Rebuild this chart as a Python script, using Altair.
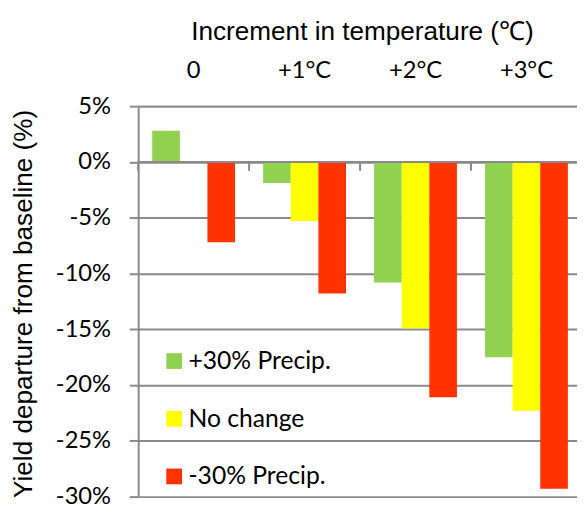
import altair as alt
import pandas as pd

categories = ["0", "+1°C", "+2°C", "+3°C"]
series_names = ["+30% Precip.", "No change", "-30% Precip."]
plus30 = [2.8, -1.9, -10.8, -17.5]
nochange = [0.0, -5.3, -14.9, -22.3]
minus30 = [-7.2, -11.8, -21.1, -29.3]
colors = ["#92D050", "#FFFF00", "#FF3300"]
y_ticks = [5, 0, -5, -10, -15, -20, -25, -30]

rows = []
for name, vals in zip(series_names, [plus30, nochange, minus30]):
    for c, v in zip(categories, vals):
        rows.append({"cat": c, "series": name, "value": v})
df = pd.DataFrame(rows)
cat_df = pd.DataFrame({"cat": categories})

GRAY = "#8a8a8a"

xscale = alt.Scale(domain=categories, range=[0, 450], paddingInner=0, paddingOuter=0)

bars = alt.Chart(df).mark_bar(clip=True).encode(
    x=alt.X("cat:N", scale=xscale,
            axis=alt.Axis(orient="top", title="Increment in temperature (℃)",
                          labelAngle=0, labelFont="Lato", labelFontSize=24,
                          labelColor="black", labelBaseline="alphabetic",
                          labelPadding=29, ticks=False, tickSize=0,
                          domainColor=GRAY, domainWidth=2,
                          titleFont="Liberation Sans", titleFontSize=26.5,
                          titleFontWeight="normal", titleColor="black",
                          titleX=227, titleY=-68, titleBaseline="alphabetic",
                          titleAlign="center")),
    xOffset=alt.XOffset("series:N", sort=series_names,
                        scale=alt.Scale(domain=series_names, paddingInner=0, paddingOuter=0.509)),
    y=alt.Y("value:Q", scale=alt.Scale(domain=[-30, 5], nice=False, zero=False),
            axis=alt.Axis(values=y_ticks, labelExpr="datum.value + '%'",
                          title="Yield departure from baseline (%)",
                          labelFont="Lato", labelFontSize=24, labelColor="black",
                          labelPadding=19, tickSize=9, tickColor=GRAY, tickWidth=2,
                          domainColor=GRAY, domainWidth=2,
                          gridColor=GRAY, gridWidth=2, grid=True,
                          titleFont="Liberation Sans", titleFontSize=26.5,
                          titleFontWeight="normal", titleColor="black",
                          titleAngle=270, titleX=-116, titleY=200,
                          titleBaseline="middle", titleAlign="center")),
    color=alt.Color("series:N", sort=series_names,
                    scale=alt.Scale(domain=series_names, range=colors),
                    legend=alt.Legend(title=None, orient="none", legendX=24, legendY=246,
                                      padding=0, symbolType="square", symbolSize=256,
                                      symbolStrokeWidth=0, labelFont="Lato",
                                      labelFontSize=25, labelColor="black",
                                      labelOffset=2, rowPadding=32.5, labelLimit=400)),
)

zero_line = alt.Chart(cat_df).mark_rule(color=GRAY, strokeWidth=2).encode(
    y=alt.datum(0)
)

boundary_ticks = alt.Chart(cat_df).mark_rule(color=GRAY, strokeWidth=2).encode(
    x=alt.X("cat:N", scale=xscale, bandPosition=0),
    y=alt.datum(0),
    y2=alt.datum(-0.8),
)

chart = alt.layer(bars, zero_line, boundary_ticks).properties(
    width=445, height=396,
    autosize=alt.AutoSizeParams(type="none"),
    padding={"left": 132, "top": 96, "right": 0, "bottom": 8},
).configure_view(stroke=None)

chart.save("out.html", embed_options={"renderer": "svg", "actions": False})
